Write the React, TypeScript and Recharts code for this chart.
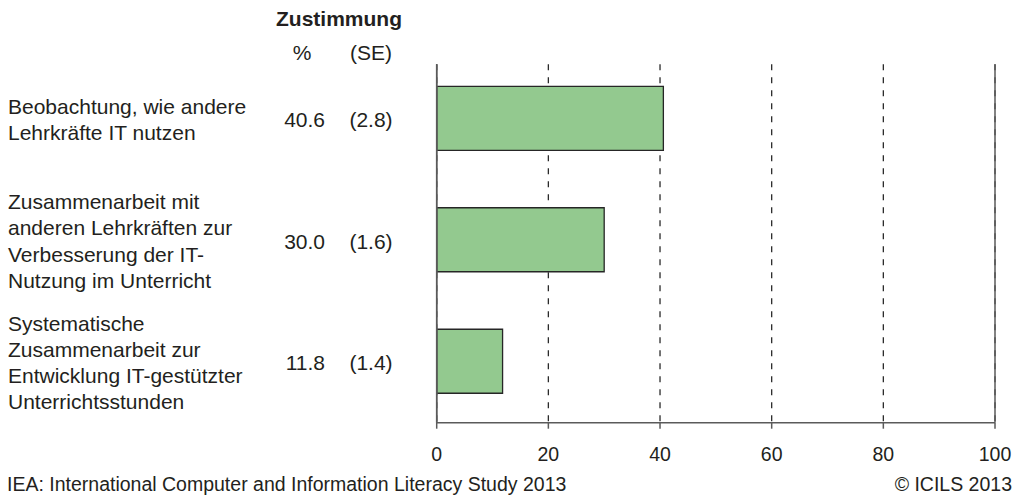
import { BarChart, Bar, XAxis, YAxis, CartesianGrid, ReferenceLine } from 'recharts';

// row labels, split the way they wrap in the source figure
const categoryLines = [
  ['Beobachtung, wie andere', 'Lehrkräfte IT nutzen'],
  ['Zusammenarbeit mit', 'anderen Lehrkräften zur', 'Verbesserung der IT-', 'Nutzung im Unterricht'],
  ['Systematische', 'Zusammenarbeit zur', 'Entwicklung IT-gestützter', 'Unterrichtsstunden'],
];
const categories = categoryLines.map(l => l.join(' '));
const percents = [40.6, 30.0, 11.8];
const standardErrors = [2.8, 1.6, 1.4];
const xTicks = [0, 20, 40, 60, 80, 100];

const data = categories.map((name, i) => ({ name, pct: percents[i], se: standardErrors[i] }));

const FONT = '"Liberation Sans", Arial, Helvetica, sans-serif';
const TEXT = '#231f20';
const AXIS = '#5a5a5a';

function CategoryTick({ y, payload }: any) {
  const i = categories.indexOf(payload.value);
  const lines = categoryLines[i] ?? [payload.value];
  const lh = 26.3;
  const first = y - ((lines.length - 1) * lh) / 2 + 9;
  return (
    <g fontFamily={FONT} fontSize={21} fill={TEXT}>
      <text x={8} y={first}>
        {lines.map((l, k) => (
          <tspan key={k} x={8} y={first + k * lh}>{l}</tspan>
        ))}
      </text>
      <text x={325} y={y + 9} textAnchor="end">{percents[i].toFixed(1)}</text>
      <text x={371} y={y + 9} textAnchor="middle">({standardErrors[i].toFixed(1)})</text>
    </g>
  );
}

export default function App() {
  return (
    <div style={{ position: 'absolute', left: 0, top: 0, width: 1021, height: 499, background: '#fff' }}>
      <BarChart
        width={1021}
        height={499}
        data={data}
        layout="vertical"
        margin={{ top: 64.3, right: 26, bottom: 36.3, left: 426.7 }}
      >
        <CartesianGrid horizontal={false} stroke="#2b2b2b" strokeDasharray="6 7" strokeWidth={1.3} />
        <XAxis
          type="number"
          domain={[0, 100]}
          ticks={xTicks}
          interval={0}
          height={40}
          axisLine={{ stroke: AXIS, strokeWidth: 1.5 }}
          tickLine={{ stroke: AXIS, strokeWidth: 1.5 }}
          tickSize={6}
          tickMargin={18}
          tick={{ fontSize: 19.5, fill: TEXT, fontFamily: FONT }}
        />
        <YAxis
          type="category"
          dataKey="name"
          width={10}
          interval={0}
          padding={{ top: -7, bottom: 1 }}
          axisLine={{ stroke: AXIS, strokeWidth: 1.5 }}
          tickLine={false}
          tick={(p: any) => <CategoryTick {...p} />}
        />
        <Bar dataKey="pct" fill="#93c98f" stroke="#262626" strokeWidth={1.3} barSize={64} isAnimationActive={false} />
        <ReferenceLine x={0} stroke={AXIS} strokeWidth={1.5} />
        <ReferenceLine x={100} stroke={AXIS} strokeWidth={1.5} />
      </BarChart>

      {/* header and footer text */}
      <svg width={1021} height={499} style={{ position: 'absolute', left: 0, top: 0, pointerEvents: 'none' }}>
        <g fontFamily={FONT} fill={TEXT}>
          <text x={339} y={25.5} fontSize={21} fontWeight="bold" textAnchor="middle">Zustimmung</text>
          <text x={302} y={60} fontSize={21} textAnchor="middle">%</text>
          <text x={371} y={60} fontSize={21} textAnchor="middle">(SE)</text>
          <text x={7} y={491} fontSize={19.5}>IEA: International Computer and Information Literacy Study 2013</text>
          <text x={1012} y={491} fontSize={19.5} textAnchor="end">© ICILS 2013</text>
        </g>
      </svg>
    </div>
  );
}
